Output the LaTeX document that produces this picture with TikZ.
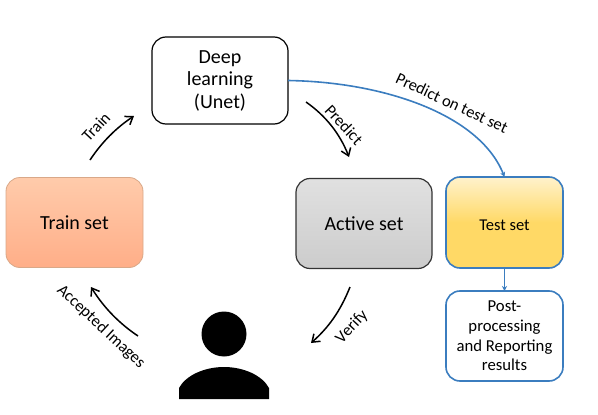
\documentclass[tikz,border=0pt]{standalone}
\usepackage{fontspec}
\setmainfont{Carlito}
\usepackage{xcolor}
\usetikzlibrary{arrows.meta}

\definecolor{lineBlue}{HTML}{3B7DBF}
\definecolor{lineDark}{HTML}{333333}
\definecolor{edgeTrain}{HTML}{D9A888}
\definecolor{trainTop}{HTML}{FFCBAB}
\definecolor{trainBottom}{HTML}{FFAE88}
\definecolor{testMid}{HTML}{FFD966}
\definecolor{testTop}{HTML}{FFF2CC}
\pgfdeclareverticalshading{testgrad}{100bp}{color(0bp)=(testMid); color(25bp)=(testMid); color(50bp)=(testMid); color(75bp)=(testTop); color(100bp)=(testTop)}

\tikzset{
    box/.style={rounded corners=14pt, outer sep=0pt, inner sep=0pt, align=center, text=black},
    flowArrow/.style={-{Straight Barb[length=7pt,width=10pt]}, line width=1.5pt, black},
    blueArrow/.style={-{Stealth[length=5pt,width=5pt]}, line width=1.6pt, lineBlue},
    arrowLabel/.style={font=\fontsize{16.5}{19}\selectfont, text=black, inner sep=0pt}
}

\begin{document}
\begin{tikzpicture}[x=1pt, y=-1pt]

    \useasboundingbox (0,0) rectangle (598,415);

    % 1. Boxes
    \node[box, draw=black, line width=1.2pt, fill=white, minimum width=136pt, minimum height=87pt,
          font=\fontsize{20}{22.5}\selectfont] (DeepNet) at (220,80.5) {Deep\\learning\\(Unet)};
    \node[box, draw=edgeTrain, line width=0.8pt, top color=trainTop, bottom color=trainBottom,
          minimum width=137pt, minimum height=90pt,
          font=\fontsize{20}{24}\selectfont] (TrainSet) at (74.5,222.5) {Train set};
    \node[box, draw=lineDark, line width=1.2pt, top color=black!12, bottom color=black!20,
          minimum width=136pt, minimum height=90pt,
          font=\fontsize{20}{24}\selectfont] (ActiveSet) at (364,223.5) {Active set};
    \node[box, draw=lineBlue, line width=1.6pt, shading=testgrad, minimum width=117pt, minimum height=91pt,
          font=\fontsize{16.5}{20}\selectfont] (TestSet) at (504.5,222.5) {\raisebox{0pt}[15pt][0pt]{Test set}};
    \node[box, draw=lineBlue, line width=1.6pt, fill=white, minimum width=117pt, minimum height=90pt,
          font=\fontsize{16.7}{19.6}\selectfont] (PostBox) at (504.5,336) {Post-\\processing\\and Reporting\\results};

    % 2. End points of the free arrows
    \coordinate (TrainStart) at (90,160);
    \coordinate (TrainEnd) at (134,116);
    \coordinate (PredictStart) at (306,102);
    \coordinate (PredictEnd) at (349,157);
    \coordinate (VerifyStart) at (350,287);
    \coordinate (VerifyEnd) at (311,343);
    \coordinate (AcceptStart) at (138,336);
    \coordinate (AcceptEnd) at (91,287);

    % 3. Arrows
    \draw[flowArrow] (TrainStart) .. controls (102,142) and (116,128) .. (TrainEnd);
    \draw[flowArrow] (PredictStart) .. controls (326,116) and (340,134) .. (PredictEnd);
    \draw[flowArrow] (VerifyStart) .. controls (340,312) and (328,328) .. (VerifyEnd);
    \draw[flowArrow] (AcceptStart) .. controls (120,324) and (104,308) .. (AcceptEnd);
    \draw[blueArrow] (DeepNet.east) .. controls (385,82) and (480,115) .. (TestSet.north);
    \draw[blueArrow] (TestSet) -- (PostBox);

    % 4. Person
    \fill[black] (224,334) circle (22.5);
    \fill[black] (179,399) -- (179,388) .. controls (186,375) and (205,367) .. (224,367)
        .. controls (243,367) and (262,375) .. (269,388) -- (269,399) -- cycle;

    % 5. Labels on the arrows
    \node[arrowLabel, rotate=47] (TrainLabel) at (96,127) {Train};
    \node[arrowLabel, rotate=-47] (PredictLabel) at (344,125) {Predict};
    \node[arrowLabel, rotate=-25] (TestLabel) at (452,103) {Predict on test set};
    \node[arrowLabel, rotate=47] (VerifyLabel) at (352,327) {Verify};
    \node[arrowLabel, rotate=-43] (AcceptLabel) at (101,327) {Accepted Images};

\end{tikzpicture}
\end{document}
